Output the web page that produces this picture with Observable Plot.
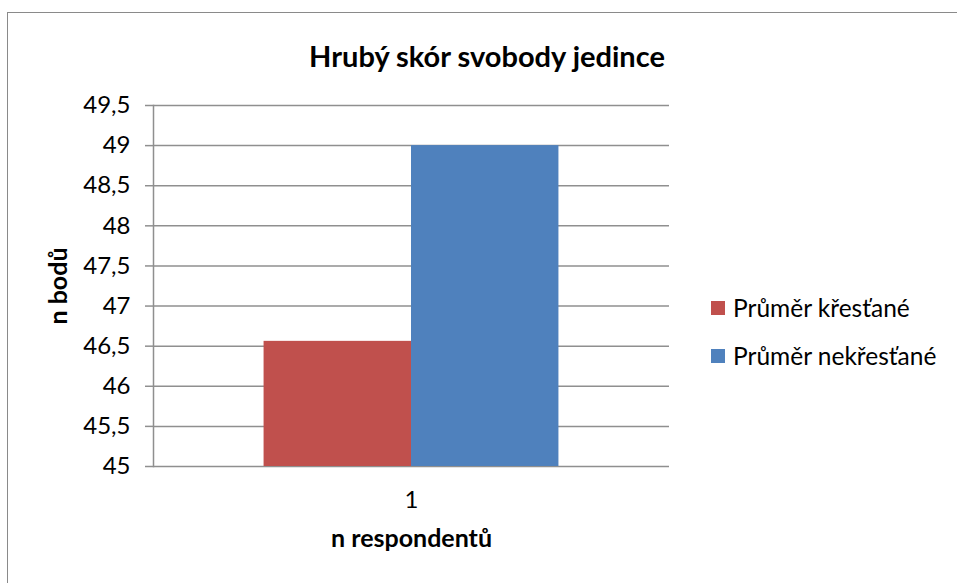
<!DOCTYPE html>
<html><head><meta charset="utf-8">
<script src="https://cdn.jsdelivr.net/npm/d3@7"></script>
<script src="https://cdn.jsdelivr.net/npm/@observablehq/plot@0.6"></script>
<style>
html,body{margin:0;padding:0;background:#fff;overflow:hidden}
body{font-family:Lato,"Open Sans",sans-serif;color:#000;width:957px;height:583px;position:relative}
#frame{position:absolute;left:7px;top:12px;width:1000px;height:1000px;border:1px solid #8a8a8a;box-sizing:border-box}
#chart{position:absolute;left:0;top:0}
#title{position:absolute;left:0;width:974px;top:40px;text-align:center;font-weight:bold;font-size:29px;line-height:32px}
.leg{position:absolute;left:711px;display:flex;align-items:center;font-size:24.5px;line-height:28px;white-space:nowrap}
.sw{width:14px;height:14px;margin-right:8px}
</style></head>
<body>
<div id="frame"></div>
<div id="chart"></div>
<div id="title">Hrubý skór svobody jedince</div>
<div id="legend"></div>
<script>
const categories = ["1"];
const series = ["Průměr křesťané", "Průměr nekřesťané"];
const values = [46.56, 49];
const colors = ["#C0504D", "#4F81BD"];
const yTicks = [45, 45.5, 46, 46.5, 47, 47.5, 48, 48.5, 49, 49.5];
const yDomain = [45, 49.5];
const legendTops = [294, 342];

const data = series.map((s, i) => ({cat: categories[0], series: s, value: values[i]}));
const fmt = d => String(d).replace(".", ",");
const grid = "#8f8f8f";

const plot = Plot.plot({
  width: 957, height: 583,
  marginLeft: 153, marginRight: 288, marginTop: 105, marginBottom: 117,
  style: {fontFamily: "Lato, 'Open Sans', sans-serif", fontSize: "24px", color: "#000", background: "transparent"},
  fx: {domain: categories, paddingInner: 0, paddingOuter: 0, round: false},
  x: {domain: series, paddingInner: 0, paddingOuter: 0.75, axis: null, round: false},
  y: {domain: yDomain},
  color: {domain: series, range: colors},
  marks: [
    Plot.ruleY(yTicks, {y: d => d, stroke: grid, strokeWidth: 1.5}),
    Plot.barY(data, {fx: "cat", x: "series", y1: yDomain[0], y2: "value", fill: "series"}),
    Plot.axisY({ticks: yTicks, tickFormat: fmt, tickSize: 8, tickPadding: 15, stroke: grid, strokeWidth: 1.5,
      fontSize: 24, label: "n bodů", labelAnchor: "center", labelArrow: "none", labelOffset: 104}),
    Plot.axisFx({anchor: "bottom", tickSize: 0, tickPadding: 24, fontSize: 24,
      label: "n respondentů", labelAnchor: "center", labelArrow: "none", labelOffset: 80}),
    Plot.frame({anchor: "left", stroke: grid, strokeWidth: 1.5})
  ]
});
document.getElementById("chart").appendChild(plot);
// bold axis titles
plot.querySelectorAll("[aria-label='y-axis label'] text, [aria-label='fx-axis label'] text").forEach(t => {
  t.setAttribute("font-weight", "bold");
  t.setAttribute("font-size", "25");
});

const leg = document.getElementById("legend");
series.forEach((s, i) => {
  const row = document.createElement("div");
  row.className = "leg";
  row.style.top = legendTops[i] + "px";
  const sw = document.createElement("div");
  sw.className = "sw";
  sw.style.background = colors[i];
  const tx = document.createElement("span");
  tx.textContent = s;
  row.appendChild(sw); row.appendChild(tx);
  leg.appendChild(row);
});
</script>
</body></html>
